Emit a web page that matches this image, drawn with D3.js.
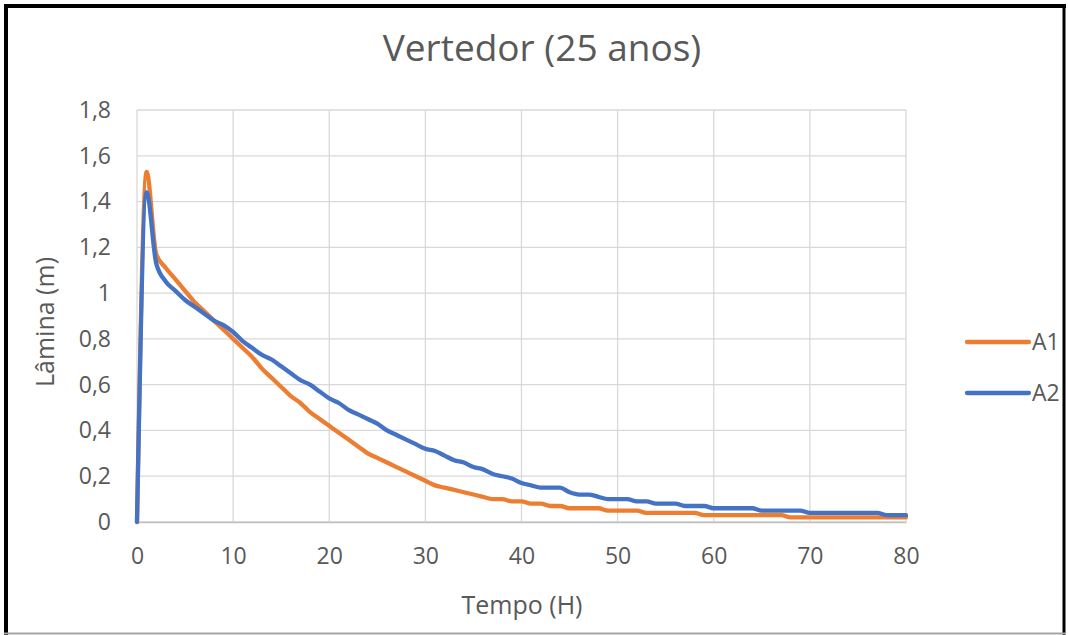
<!DOCTYPE html>
<html>
<head>
<meta charset="utf-8">
<script src="https://cdn.jsdelivr.net/npm/d3@7"></script>
<style>
  body { margin: 0; background: #fff; }
  text { font-family: "Open Sans", "Noto Sans", sans-serif; fill: #595959; }
</style>
</head>
<body>
<svg id="chart" width="1068" height="635"></svg>
<script>
// tempo (h)
const hours = d3.range(0, 81);
const a1 = [0, 1.53, 1.17, 1.11, 1.06, 1.01, 0.96, 0.92, 0.88, 0.84,
  0.80, 0.76, 0.72, 0.67, 0.63, 0.59, 0.55, 0.52, 0.48, 0.45,
  0.42, 0.39, 0.36, 0.33, 0.30, 0.28, 0.26, 0.24, 0.22, 0.20,
  0.18, 0.16, 0.15, 0.14, 0.13, 0.12, 0.11, 0.10, 0.10, 0.09,
  0.09, 0.08, 0.08, 0.07, 0.07, 0.06, 0.06, 0.06, 0.06, 0.05,
  0.05, 0.05, 0.05, 0.04, 0.04, 0.04, 0.04, 0.04, 0.04, 0.03,
  0.03, 0.03, 0.03, 0.03, 0.03, 0.03, 0.03, 0.03, 0.02, 0.02,
  0.02, 0.02, 0.02, 0.02, 0.02, 0.02, 0.02, 0.02, 0.02, 0.02, 0.02];
const a2 = [0, 1.44, 1.13, 1.05, 1.01, 0.97, 0.94, 0.91, 0.88, 0.86,
  0.83, 0.79, 0.76, 0.73, 0.71, 0.68, 0.65, 0.62, 0.60, 0.57,
  0.54, 0.52, 0.49, 0.47, 0.45, 0.43, 0.40, 0.38, 0.36, 0.34,
  0.32, 0.31, 0.29, 0.27, 0.26, 0.24, 0.23, 0.21, 0.20, 0.19,
  0.17, 0.16, 0.15, 0.15, 0.15, 0.13, 0.12, 0.12, 0.11, 0.10,
  0.10, 0.10, 0.09, 0.09, 0.08, 0.08, 0.08, 0.07, 0.07, 0.07,
  0.06, 0.06, 0.06, 0.06, 0.06, 0.05, 0.05, 0.05, 0.05, 0.05,
  0.04, 0.04, 0.04, 0.04, 0.04, 0.04, 0.04, 0.04, 0.03, 0.03, 0.03];
const seriesNames = ["A1", "A2"];
const seriesColors = ["#ED7D31", "#4472C4"];
const xTicks = [0, 10, 20, 30, 40, 50, 60, 70, 80];
const yTicks = [0, 0.2, 0.4, 0.6, 0.8, 1, 1.2, 1.4, 1.6, 1.8];

const svg = d3.select("#chart");
const pLeft = 137, pRight = 906, pTop = 110, pBottom = 522;

let x = d3.scaleLinear().domain([0, 80]).range([pLeft, pRight]);
let y = d3.scaleLinear().domain([0, 1.8]).range([pBottom, pTop]);
const fmt = d => d3.format("~g")(d).replace(".", ",");

// moldura
svg.append("rect").attr("x", 0).attr("y", 0).attr("width", 1068).attr("height", 635).attr("fill", "#fff");
svg.append("line").attr("x1", 6).attr("x2", 6).attr("y1", 4).attr("y2", 635).attr("stroke", "#000").attr("stroke-width", 4);
svg.append("line").attr("x1", 4).attr("x2", 1066).attr("y1", 6).attr("y2", 6).attr("stroke", "#000").attr("stroke-width", 4);
svg.append("line").attr("x1", 1064).attr("x2", 1064).attr("y1", 4).attr("y2", 635).attr("stroke", "#000").attr("stroke-width", 3);
svg.append("line").attr("x1", 4).attr("x2", 1066).attr("y1", 633.5).attr("y2", 633.5).attr("stroke", "#A6A6A6").attr("stroke-width", 2);

// grade
svg.append("g")
  .selectAll("line.h")
  .data(yTicks)
  .enter().append("line")
  .attr("x1", pLeft).attr("x2", pRight)
  .attr("y1", d => y(d)).attr("y2", d => y(d))
  .attr("stroke", "#D9D9D9").attr("stroke-width", 1.3);
svg.append("g")
  .selectAll("line.v")
  .data(xTicks)
  .enter().append("line")
  .attr("x1", d => x(d)).attr("x2", d => x(d))
  .attr("y1", pTop).attr("y2", pBottom)
  .attr("stroke", "#D9D9D9").attr("stroke-width", 1.3);

// eixos
const xAxis = svg.append("g")
  .attr("transform", "translate(0," + pBottom + ")")
  .call(d3.axisBottom(x).tickValues(xTicks).tickSize(0).tickPadding(26).tickFormat(fmt));
xAxis.select(".domain").attr("stroke", "#BFBFBF").attr("stroke-width", 1.3);
xAxis.selectAll("text").style("font-size", "23px").attr("fill", "#595959");

const yAxis = svg.append("g")
  .attr("transform", "translate(" + pLeft + ",0)")
  .call(d3.axisLeft(y).tickValues(yTicks).tickSize(0).tickPadding(26).tickFormat(fmt));
yAxis.select(".domain").remove();
yAxis.selectAll("text").style("font-size", "23px").attr("fill", "#595959");

// linhas
const line = d3.line()
  .x((d, i) => x(hours[i]))
  .y(d => y(d))
  .curve(d3.curveMonotoneX);
[a1, a2].forEach((s, k) => {
  svg.append("path")
    .datum(s)
    .attr("fill", "none")
    .attr("stroke", seriesColors[k])
    .attr("stroke-width", 4.3)
    .attr("stroke-linejoin", "round")
    .attr("stroke-linecap", "round")
    .attr("d", line);
});

// titulos
svg.append("text").attr("x", 542).attr("y", 61).attr("text-anchor", "middle")
  .style("font-size", "37px").text("Vertedor (25 anos)");
svg.append("text").attr("x", 522).attr("y", 614).attr("text-anchor", "middle")
  .style("font-size", "25px").text("Tempo (H)");
svg.append("text").attr("transform", "translate(54,322) rotate(-90)").attr("text-anchor", "middle")
  .style("font-size", "25px").text("Lâmina (m)");

// legenda
const legend = svg.append("g");
seriesNames.forEach((n, k) => {
  const ly = 342 + k * 51;
  legend.append("line").attr("x1", 967).attr("x2", 1029).attr("y1", ly).attr("y2", ly)
    .attr("stroke", seriesColors[k]).attr("stroke-width", 4.3).attr("stroke-linecap", "round");
  legend.append("text").attr("x", 1032).attr("y", ly + 8).style("font-size", "23px").text(n);
});
</script>
</body>
</html>
